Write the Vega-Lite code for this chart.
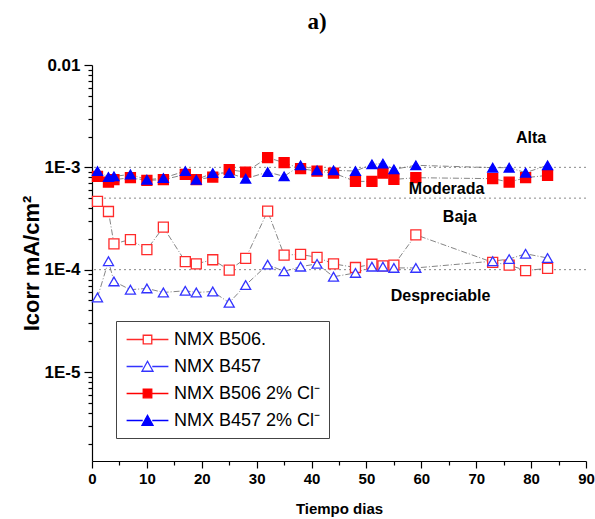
{
  "$schema": "https://vega.github.io/schema/vega-lite/v6.json",
  "width": 494,
  "height": 396,
  "autosize": {"type": "none"},
  "padding": {"left": 92, "top": 65, "right": 9, "bottom": 58},
  "background": "white",
  "title": {"text": "a)", "font": "Liberation Serif", "fontSize": 23, "fontWeight": "bold", "anchor": "middle", "dx": -22, "offset": 22, "color": "black"},
  "config": {
    "view": {"stroke": null},
    "font": "Liberation Sans"
  },
  "datasets": {
    "series": [
      {"serie": "NMX B506.", "dia": 1, "icorr": 0.000464},
      {"serie": "NMX B506.", "dia": 3, "icorr": 0.00037},
      {"serie": "NMX B506.", "dia": 4, "icorr": 0.000179},
      {"serie": "NMX B506.", "dia": 7, "icorr": 0.000197},
      {"serie": "NMX B506.", "dia": 10, "icorr": 0.000157},
      {"serie": "NMX B506.", "dia": 13, "icorr": 0.00026},
      {"serie": "NMX B506.", "dia": 17, "icorr": 0.00012},
      {"serie": "NMX B506.", "dia": 19, "icorr": 0.000114},
      {"serie": "NMX B506.", "dia": 22, "icorr": 0.000125},
      {"serie": "NMX B506.", "dia": 25, "icorr": 0.000099},
      {"serie": "NMX B506.", "dia": 28, "icorr": 0.000129},
      {"serie": "NMX B506.", "dia": 32, "icorr": 0.000373},
      {"serie": "NMX B506.", "dia": 35, "icorr": 0.000139},
      {"serie": "NMX B506.", "dia": 38, "icorr": 0.000141},
      {"serie": "NMX B506.", "dia": 41, "icorr": 0.000132},
      {"serie": "NMX B506.", "dia": 44, "icorr": 0.000114},
      {"serie": "NMX B506.", "dia": 48, "icorr": 0.000105},
      {"serie": "NMX B506.", "dia": 51, "icorr": 0.000113},
      {"serie": "NMX B506.", "dia": 53, "icorr": 0.000109},
      {"serie": "NMX B506.", "dia": 55, "icorr": 0.000111},
      {"serie": "NMX B506.", "dia": 59, "icorr": 0.000219},
      {"serie": "NMX B506.", "dia": 73, "icorr": 0.000118},
      {"serie": "NMX B506.", "dia": 76, "icorr": 0.000111},
      {"serie": "NMX B506.", "dia": 79, "icorr": 0.000098},
      {"serie": "NMX B506.", "dia": 83, "icorr": 0.000103},

      {"serie": "NMX B457", "dia": 1, "icorr": 0.0000535},
      {"serie": "NMX B457", "dia": 3, "icorr": 0.000121},
      {"serie": "NMX B457", "dia": 4, "icorr": 0.0000768},
      {"serie": "NMX B457", "dia": 7, "icorr": 0.0000637},
      {"serie": "NMX B457", "dia": 10, "icorr": 0.0000656},
      {"serie": "NMX B457", "dia": 13, "icorr": 0.0000599},
      {"serie": "NMX B457", "dia": 17, "icorr": 0.0000622},
      {"serie": "NMX B457", "dia": 19, "icorr": 0.0000599},
      {"serie": "NMX B457", "dia": 22, "icorr": 0.0000612},
      {"serie": "NMX B457", "dia": 25, "icorr": 0.0000475},
      {"serie": "NMX B457", "dia": 28, "icorr": 0.0000708},
      {"serie": "NMX B457", "dia": 32, "icorr": 0.000112},
      {"serie": "NMX B457", "dia": 35, "icorr": 0.0000962},
      {"serie": "NMX B457", "dia": 38, "icorr": 0.000107},
      {"serie": "NMX B457", "dia": 41, "icorr": 0.000114},
      {"serie": "NMX B457", "dia": 44, "icorr": 0.0000853},
      {"serie": "NMX B457", "dia": 48, "icorr": 0.0000929},
      {"serie": "NMX B457", "dia": 51, "icorr": 0.000107},
      {"serie": "NMX B457", "dia": 53, "icorr": 0.000107},
      {"serie": "NMX B457", "dia": 55, "icorr": 0.000104},
      {"serie": "NMX B457", "dia": 59, "icorr": 0.000104},
      {"serie": "NMX B457", "dia": 73, "icorr": 0.000121},
      {"serie": "NMX B457", "dia": 76, "icorr": 0.000127},
      {"serie": "NMX B457", "dia": 79, "icorr": 0.000143},
      {"serie": "NMX B457", "dia": 83, "icorr": 0.00013},

      {"serie": "NMX B506 2% Cl⁻", "dia": 1, "icorr": 0.000816},
      {"serie": "NMX B506 2% Cl⁻", "dia": 3, "icorr": 0.000718},
      {"serie": "NMX B506 2% Cl⁻", "dia": 4, "icorr": 0.000757},
      {"serie": "NMX B506 2% Cl⁻", "dia": 7, "icorr": 0.000792},
      {"serie": "NMX B506 2% Cl⁻", "dia": 10, "icorr": 0.000746},
      {"serie": "NMX B506 2% Cl⁻", "dia": 13, "icorr": 0.000757},
      {"serie": "NMX B506 2% Cl⁻", "dia": 17, "icorr": 0.000853},
      {"serie": "NMX B506 2% Cl⁻", "dia": 19, "icorr": 0.000757},
      {"serie": "NMX B506 2% Cl⁻", "dia": 22, "icorr": 0.000804},
      {"serie": "NMX B506 2% Cl⁻", "dia": 25, "icorr": 0.000949},
      {"serie": "NMX B506 2% Cl⁻", "dia": 28, "icorr": 0.000899},
      {"serie": "NMX B506 2% Cl⁻", "dia": 32, "icorr": 0.001245},
      {"serie": "NMX B506 2% Cl⁻", "dia": 35, "icorr": 0.00111},
      {"serie": "NMX B506 2% Cl⁻", "dia": 38, "icorr": 0.000971},
      {"serie": "NMX B506 2% Cl⁻", "dia": 41, "icorr": 0.00092},
      {"serie": "NMX B506 2% Cl⁻", "dia": 44, "icorr": 0.000879},
      {"serie": "NMX B506 2% Cl⁻", "dia": 48, "icorr": 0.000729},
      {"serie": "NMX B506 2% Cl⁻", "dia": 51, "icorr": 0.000729},
      {"serie": "NMX B506 2% Cl⁻", "dia": 53, "icorr": 0.000879},
      {"serie": "NMX B506 2% Cl⁻", "dia": 55, "icorr": 0.000762},
      {"serie": "NMX B506 2% Cl⁻", "dia": 59, "icorr": 0.000792},
      {"serie": "NMX B506 2% Cl⁻", "dia": 73, "icorr": 0.000775},
      {"serie": "NMX B506 2% Cl⁻", "dia": 76, "icorr": 0.000718},
      {"serie": "NMX B506 2% Cl⁻", "dia": 79, "icorr": 0.000792},
      {"serie": "NMX B506 2% Cl⁻", "dia": 83, "icorr": 0.000835},

      {"serie": "NMX B457 2% Cl⁻", "dia": 1, "icorr": 0.00092},
      {"serie": "NMX B457 2% Cl⁻", "dia": 3, "icorr": 0.000804},
      {"serie": "NMX B457 2% Cl⁻", "dia": 4, "icorr": 0.000816},
      {"serie": "NMX B457 2% Cl⁻", "dia": 7, "icorr": 0.000853},
      {"serie": "NMX B457 2% Cl⁻", "dia": 10, "icorr": 0.000757},
      {"serie": "NMX B457 2% Cl⁻", "dia": 13, "icorr": 0.000785},
      {"serie": "NMX B457 2% Cl⁻", "dia": 17, "icorr": 0.00092},
      {"serie": "NMX B457 2% Cl⁻", "dia": 19, "icorr": 0.000757},
      {"serie": "NMX B457 2% Cl⁻", "dia": 22, "icorr": 0.000879},
      {"serie": "NMX B457 2% Cl⁻", "dia": 25, "icorr": 0.000879},
      {"serie": "NMX B457 2% Cl⁻", "dia": 28, "icorr": 0.000775},
      {"serie": "NMX B457 2% Cl⁻", "dia": 32, "icorr": 0.000899},
      {"serie": "NMX B457 2% Cl⁻", "dia": 35, "icorr": 0.000816},
      {"serie": "NMX B457 2% Cl⁻", "dia": 38, "icorr": 0.001047},
      {"serie": "NMX B457 2% Cl⁻", "dia": 41, "icorr": 0.000935},
      {"serie": "NMX B457 2% Cl⁻", "dia": 44, "icorr": 0.000935},
      {"serie": "NMX B457 2% Cl⁻", "dia": 48, "icorr": 0.00092},
      {"serie": "NMX B457 2% Cl⁻", "dia": 51, "icorr": 0.00107},
      {"serie": "NMX B457 2% Cl⁻", "dia": 53, "icorr": 0.001087},
      {"serie": "NMX B457 2% Cl⁻", "dia": 55, "icorr": 0.000955},
      {"serie": "NMX B457 2% Cl⁻", "dia": 59, "icorr": 0.001047},
      {"serie": "NMX B457 2% Cl⁻", "dia": 73, "icorr": 0.000993},
      {"serie": "NMX B457 2% Cl⁻", "dia": 76, "icorr": 0.000993},
      {"serie": "NMX B457 2% Cl⁻", "dia": 79, "icorr": 0.000887},
      {"serie": "NMX B457 2% Cl⁻", "dia": 83, "icorr": 0.001047}
    ],
    "limites": [
      {"icorr": 0.001},
      {"icorr": 0.0005},
      {"icorr": 0.0001}
    ],
    "zonas": [
      {"zona": "Alta", "dia": 80, "icorr": 0.00192},
      {"zona": "Moderada", "dia": 64.6, "icorr": 0.00062},
      {"zona": "Baja", "dia": 67, "icorr": 0.00033},
      {"zona": "Despreciable", "dia": 63.5, "icorr": 0.0000556}
    ]
  },
  "encoding": {
    "x": {
      "field": "dia", "type": "quantitative",
      "scale": {"domain": [0, 90], "nice": false, "zero": false},
      "axis": {
        "title": "Tiempo dias",
        "titleFont": "Liberation Sans", "titleFontSize": 15, "titleFontWeight": "bold", "titleColor": "black",
        "titleBaseline": "middle", "titleY": 47,
        "values": [0,5,10,15,20,25,30,35,40,45,50,55,60,65,70,75,80,85,90],
        "labelExpr": "datum.value % 10 === 0 ? datum.value : ''",
        "labelFont": "Liberation Sans", "labelFontSize": 15, "labelFontWeight": "bold", "labelColor": "black",
        "labelPadding": 3, "labelFlush": false, "labelOverlap": false,
        "grid": false, "domainColor": "black", "domainWidth": 1.2,
        "tickColor": "black", "tickWidth": 1.2,
        "tickSize": {"condition": {"test": "datum.value % 10 === 0", "value": 7}, "value": 4}
      }
    },
    "y": {
      "field": "icorr", "type": "quantitative",
      "scale": {"type": "log", "domain": [0.00000135, 0.01], "nice": false},
      "axis": {
        "title": "Icorr mA/cm²",
        "titleFont": "Liberation Sans", "titleFontSize": 22, "titleFontWeight": "bold", "titleColor": "black",
        "titleAngle": -90, "titleAlign": "center", "titleBaseline": "middle", "titleX": -61, "titleY": 198,
        "values": [0.000002,0.000003,0.000004,0.000005,0.000006,0.000007,0.000008,0.000009,0.00001,0.00002,0.00003,0.00004,0.00005,0.00006,0.00007,0.00008,0.00009,0.0001,0.0002,0.0003,0.0004,0.0005,0.0006,0.0007,0.0008,0.0009,0.001,0.002,0.003,0.004,0.005,0.006,0.007,0.008,0.009,0.01],
        "labelExpr": "abs(log(datum.value)/LN10 - round(log(datum.value)/LN10)) < 0.001 ? (datum.value > 0.005 ? '0.01' : '1E' + round(log(datum.value)/LN10)) : ''",
        "labelFont": "Liberation Sans", "labelFontSize": 17, "labelFontWeight": "bold", "labelColor": "black",
        "labelPadding": 4, "labelOverlap": false, "labelFlush": false,
        "grid": false, "domainColor": "black", "domainWidth": 1.2,
        "tickColor": "black", "tickWidth": 1.2,
        "tickSize": {"condition": {"test": "abs(log(datum.value)/LN10 - round(log(datum.value)/LN10)) < 0.001", "value": 8}, "value": 4}
      }
    }
  },
  "resolve": {"scale": {"shape": "independent", "fill": "independent", "stroke": "independent"}},
  "layer": [
    {
      "data": {"name": "limites"},
      "mark": {"type": "rule", "color": "#888888", "strokeWidth": 1, "strokeDash": [2, 3]},
      "encoding": {"x": null}
    },
    {
      "data": {"name": "series"},
      "mark": {"type": "line", "color": "#666666", "strokeWidth": 0.8, "strokeDash": [6, 2, 1, 2]},
      "encoding": {
        "detail": {"field": "serie"},
        "order": {"field": "dia"}
      }
    },
    {
      "data": {"name": "series"},
      "mark": {"type": "point", "opacity": 1, "strokeWidth": 1.3, "size": 100},
      "encoding": {
        "fill": {"field": "serie", "type": "nominal", "legend": null,
          "scale": {"domain": ["NMX B506.", "NMX B457", "NMX B506 2% Cl⁻", "NMX B457 2% Cl⁻"], "range": ["white", "white", "#ff0000", "#0000ff"]}},
        "stroke": {"field": "serie", "type": "nominal", "legend": null,
          "scale": {"domain": ["NMX B506.", "NMX B457", "NMX B506 2% Cl⁻", "NMX B457 2% Cl⁻"], "range": ["#ff2a2a", "#3333ff", "#ff0000", "#0000ff"]}},
        "shape": {"field": "serie", "type": "nominal", "legend": null,
          "scale": {"domain": ["NMX B506.", "NMX B457", "NMX B506 2% Cl⁻", "NMX B457 2% Cl⁻"], "range": ["square", "triangle-up", "square", "triangle-up"]}}
      }
    },
    {
      "data": {"name": "series"},
      "transform": [{"filter": "false"}],
      "mark": {"type": "point", "opacity": 1, "strokeWidth": 1.3},
      "encoding": {
        "fill": {"field": "serie", "type": "nominal",
          "scale": {"domain": ["NMX B506.", "NMX B457", "NMX B506 2% Cl⁻", "NMX B457 2% Cl⁻"], "range": ["white", "white", "#ff0000", "#0000ff"]},
          "legend": {
            "title": null, "orient": "none", "legendX": 24, "legendY": 256,
            "strokeColor": "#444444", "padding": 8, "fillColor": "white",
            "labelFont": "Liberation Sans", "labelFontSize": 18, "labelColor": "black",
            "symbolSize": 361, "symbolOffset": 13, "labelOffset": 16, "rowPadding": 7, "symbolStrokeWidth": 1.3
          }
        },
        "stroke": {"field": "serie", "type": "nominal",
          "scale": {"domain": ["NMX B506.", "NMX B457", "NMX B506 2% Cl⁻", "NMX B457 2% Cl⁻"], "range": ["#ff2a2a", "#3333ff", "#ff0000", "#0000ff"]}},
        "shape": {"field": "serie", "type": "nominal",
          "scale": {"domain": ["NMX B506.", "NMX B457", "NMX B506 2% Cl⁻", "NMX B457 2% Cl⁻"], "range": [
            "M-2.2,0H-0.45M0.45,0H2.2M-0.45,-0.45H0.45V0.45H-0.45Z",
            "M-2.2,0H-0.5M0.5,0H2.2M0,-0.55L0.58,0.5H-0.58Z",
            "M-2.2,0H-0.45M0.45,0H2.2M-0.45,-0.45H0.45V0.45H-0.45Z",
            "M-2.2,0H-0.5M0.5,0H2.2M0,-0.55L0.58,0.5H-0.58Z"
          ]}}
      }
    },
    {
      "data": {"name": "zonas"},
      "mark": {"type": "text", "font": "Liberation Sans", "fontSize": 16, "fontWeight": "bold", "color": "black", "align": "center", "baseline": "middle"},
      "encoding": {"text": {"field": "zona"}}
    }
  ]
}
